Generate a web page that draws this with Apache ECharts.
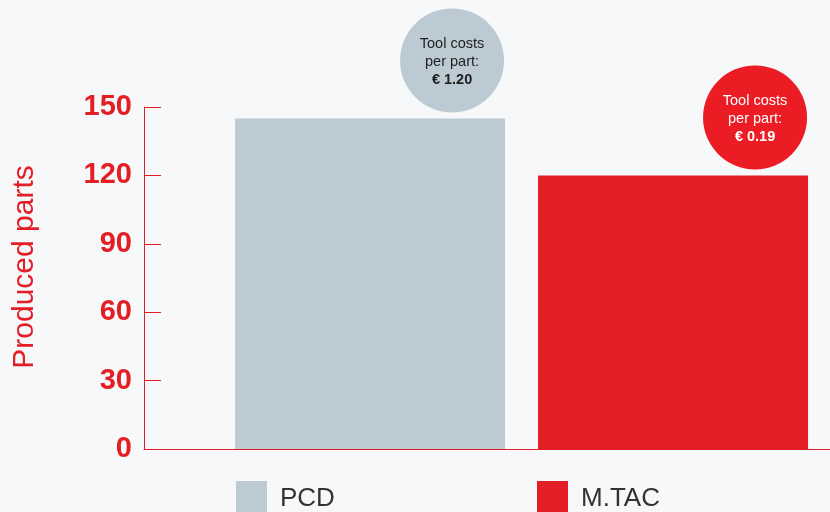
<!DOCTYPE html>
<html>
<head>
<meta charset="utf-8">
<script src="https://cdn.jsdelivr.net/npm/echarts@6/dist/echarts.min.js"></script>
<style>
  html, body { margin: 0; padding: 0; background: #f7f8fa; }
  #chart { width: 830px; height: 512px; }
</style>
</head>
<body>
<div id="chart"></div>
<script>
// chart data
const categories = ['PCD', 'M.TAC']
const producedParts = [145, 120]
const toolCosts = ['1.20', '0.19']
const yTicks = [0, 30, 60, 90, 120, 150]

const red = '#e31e24'
const barColors = ['#bccbd3', '#e31e24']
const bubbleColors = ['#bccbd3', '#ec1c24']
const bubbleText = ['#1e1e1e', '#fff']
const font = '"Liberation Sans", Arial, Helvetica, sans-serif'

const chart = echarts.init(document.getElementById('chart'))

const barSeries = categories.map((name, i) => ({
    name: name,
    type: 'bar',
    barWidth: 270,
    barGap: '-100%',
    itemStyle: { color: barColors[i] },
    data: [[i, producedParts[i]]],
    z: 2
}))

const bubbles = {
    type: 'scatter',
    symbol: 'circle',
    symbolSize: 104,
    symbolOffset: [82, -58],
    silent: true,
    data: categories.map((name, i) => ({
        value: [i, producedParts[i]],
        itemStyle: { color: bubbleColors[i], opacity: 1 },
        label: { color: bubbleText[i] }
    })),
    label: {
        show: true,
        position: 'inside',
        fontFamily: font,
        fontSize: 14.5,
        lineHeight: 18,
        padding: [4, 0, 0, 0],
        formatter: p => 'Tool costs\nper part:\n{b|€ ' + toolCosts[p.dataIndex] + '}',
        rich: {
            b: { fontWeight: 'bold', fontSize: 14.5, lineHeight: 18, fontFamily: font }
        }
    },
    z: 3
}

chart.setOption({
    backgroundColor: '#f7f8fa',
    animation: false,
    textStyle: { fontFamily: font },
    grid: { left: 144, right: 0, top: 107, bottom: 63 },
    legend: categories.map((name, i) => ({
        data: [name],
        left: i === 0 ? 236 : 537,
        top: 481,
        padding: 0,
        icon: 'rect',
        itemWidth: 31,
        itemHeight: 36,
        selectedMode: false,
        textStyle: { fontSize: 26, color: '#333', fontFamily: font, padding: [0, 0, 0, 8] }
    })),
    xAxis: {
        type: 'value',
        min: -0.746,
        max: 1.518,
        axisLine: { show: true, onZero: false, lineStyle: { color: red, width: 1 } },
        axisTick: { show: false },
        axisLabel: { show: false },
        splitLine: { show: false }
    },
    yAxis: {
        type: 'value',
        min: yTicks[0],
        max: yTicks[yTicks.length - 1],
        interval: 30,
        name: 'Produced parts',
        nameLocation: 'middle',
        nameGap: 104,
        nameTextStyle: { color: red, fontSize: 30, fontFamily: font, padding: [0, 0, 0, 22] },
        axisLine: { show: true, onZero: false, lineStyle: { color: red, width: 1 } },
        axisTick: { show: true, inside: true, length: 17, lineStyle: { color: red } },
        axisLabel: { color: red, fontSize: 29, fontWeight: 'bold', margin: 12, fontFamily: font },
        splitLine: { show: false }
    },
    series: barSeries.concat([bubbles])
})
</script>
</body>
</html>
